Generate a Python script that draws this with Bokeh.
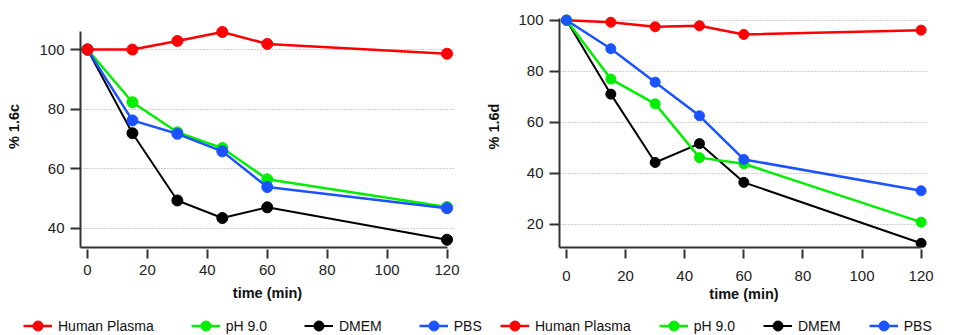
from bokeh.plotting import figure
from bokeh.layouts import row, column
from bokeh.models import FixedTicker, Range1d, Legend, LegendItem
from bokeh.embed import file_html
from bokeh.resources import INLINE

# ---------------- data ----------------
time_min = [0, 15, 30, 45, 60, 120]

series_names = ["Human Plasma", "pH 9.0", "DMEM", "PBS"]
series_colors = ["#ff0000", "#00ee00", "#000000", "#1a53ff"]

# panel 1.6c
c_plasma = [100, 100, 102.9, 105.9, 101.9, 98.6]
c_ph9 = [100, 82.3, 72.2, 66.9, 56.4, 47.1]
c_dmem = [100, 71.9, 49.3, 43.4, 47.0, 36.1]
c_pbs = [100, 76.2, 71.7, 65.8, 53.8, 46.7]

# panel 1.6d
d_plasma = [100, 99.2, 97.4, 97.8, 94.4, 96.1]
d_ph9 = [100, 76.9, 67.2, 46.1, 43.7, 20.8]
d_dmem = [100, 71.0, 44.2, 51.6, 36.4, 12.5]
d_pbs = [100, 88.8, 75.7, 62.5, 45.4, 33.1]

x_ticks = [0, 20, 40, 60, 80, 100, 120]
c_y_ticks = [40, 60, 80, 100]
d_y_ticks = [20, 40, 60, 80, 100]

FONT = "Liberation Sans"
CHART_H = 307
LEG_H = 28


def line_width(i):
    return 2 if i == 2 else 2.5


def make_fig(width, mb_left, mb_right, x_rng, x_bounds,
             y_rng, y_bounds, y_ticks, y_label, data, order, msize,
             y_label_standoff, x_lab_standoff, x_title_standoff):
    p = figure(width=width, height=CHART_H, output_backend="svg",
               toolbar_location=None,
               x_range=Range1d(*x_rng), y_range=Range1d(*y_rng),
               min_border_left=mb_left, min_border_right=mb_right,
               min_border_top=5, min_border_bottom=60)
    p.outline_line_color = None
    p.background_fill_color = "white"
    p.border_fill_color = "white"

    p.xgrid.visible = False
    p.ygrid.grid_line_color = "#a0a0a0"
    p.ygrid.grid_line_dash = "1 2"
    p.ygrid.grid_line_width = 1

    for ax in (p.xaxis[0], p.yaxis[0]):
        ax.axis_line_width = 2
        ax.axis_line_color = "#333333"
        ax.major_tick_line_width = 2
        ax.major_tick_line_color = "#333333"
        ax.minor_tick_out = 0
        ax.minor_tick_in = 0
        ax.major_label_text_font = FONT
        ax.major_label_text_font_size = "15px"
        ax.major_label_text_color = "#222222"
        ax.axis_label_text_font = FONT
        ax.axis_label_text_font_size = "14.5px"
        ax.axis_label_text_font_style = "bold"
        ax.axis_label_text_color = "#111111"

    xa = p.xaxis[0]
    xa.ticker = FixedTicker(ticks=x_ticks)
    xa.bounds = x_bounds
    xa.major_tick_in = -2
    xa.major_tick_out = 11
    xa.major_label_standoff = x_lab_standoff
    xa.axis_label = "time (min)"
    xa.axis_label_standoff = x_title_standoff

    ya = p.yaxis[0]
    ya.ticker = FixedTicker(ticks=y_ticks)
    ya.bounds = y_bounds
    ya.major_tick_in = 0
    ya.major_tick_out = 10
    ya.major_label_standoff = 6
    ya.axis_label = y_label
    ya.axis_label_standoff = y_label_standoff

    for i in order:
        vals = data[i]
        col = series_colors[i]
        p.line(time_min, vals, line_color=col, line_width=line_width(i))
        p.scatter(time_min, vals, size=msize, fill_color=col,
                  line_color=col, marker="circle")
    return p


p1 = make_fig(width=480, mb_left=80, mb_right=26,
              x_rng=(-2.33, 122.5), x_bounds=(-2.33, 120.3),
              y_rng=(33.5, 114.8), y_bounds=(33.5, 105.9),
              y_ticks=c_y_ticks, y_label="% 1.6c",
              data=[c_plasma, c_ph9, c_dmem, c_pbs], order=[2, 1, 3, 0],
              msize=11, y_label_standoff=14, x_lab_standoff=6,
              x_title_standoff=7)

p2 = make_fig(width=464, mb_left=79, mb_right=16,
              x_rng=(-2.37, 122.5), x_bounds=(-2.37, 120.2),
              y_rng=(10.86, 105.76), y_bounds=(10.86, 100.5),
              y_ticks=d_y_ticks, y_label="% 1.6d",
              data=[d_plasma, d_ph9, d_dmem, d_pbs], order=[0, 2, 1, 3],
              msize=10, y_label_standoff=13, x_lab_standoff=12,
              x_title_standoff=2)

# legend strip
lg = figure(width=944, height=LEG_H, output_backend="svg",
            toolbar_location=None, x_axis_location=None,
            y_axis_location=None, x_range=Range1d(0, 1),
            y_range=Range1d(0, 1), min_border=0)
lg.outline_line_color = None
lg.grid.visible = False

leg_items = []
for i in range(4):
    col = series_colors[i]
    lr = lg.line([-10, -9], [-10, -10], line_color=col,
                 line_width=line_width(i))
    sr = lg.scatter([-10], [-10], size=10, fill_color=col, line_color=col,
                    marker="circle")
    leg_items.append(LegendItem(label=series_names[i], renderers=[lr, sr]))

for loc, sp in (((23, -3), 37), ((500, -3), 28)):
    leg = Legend(items=leg_items, location=loc, orientation="horizontal",
                 border_line_color=None, background_fill_alpha=0,
                 padding=0, margin=0, spacing=sp,
                 glyph_width=29, glyph_height=25, label_height=25,
                 label_standoff=6,
                 label_text_font=FONT, label_text_font_size="14px",
                 label_text_color="#111111")
    lg.add_layout(leg)

layout = column(row(p1, p2), lg)
open("out.html", "w").write(file_html(layout, INLINE))
